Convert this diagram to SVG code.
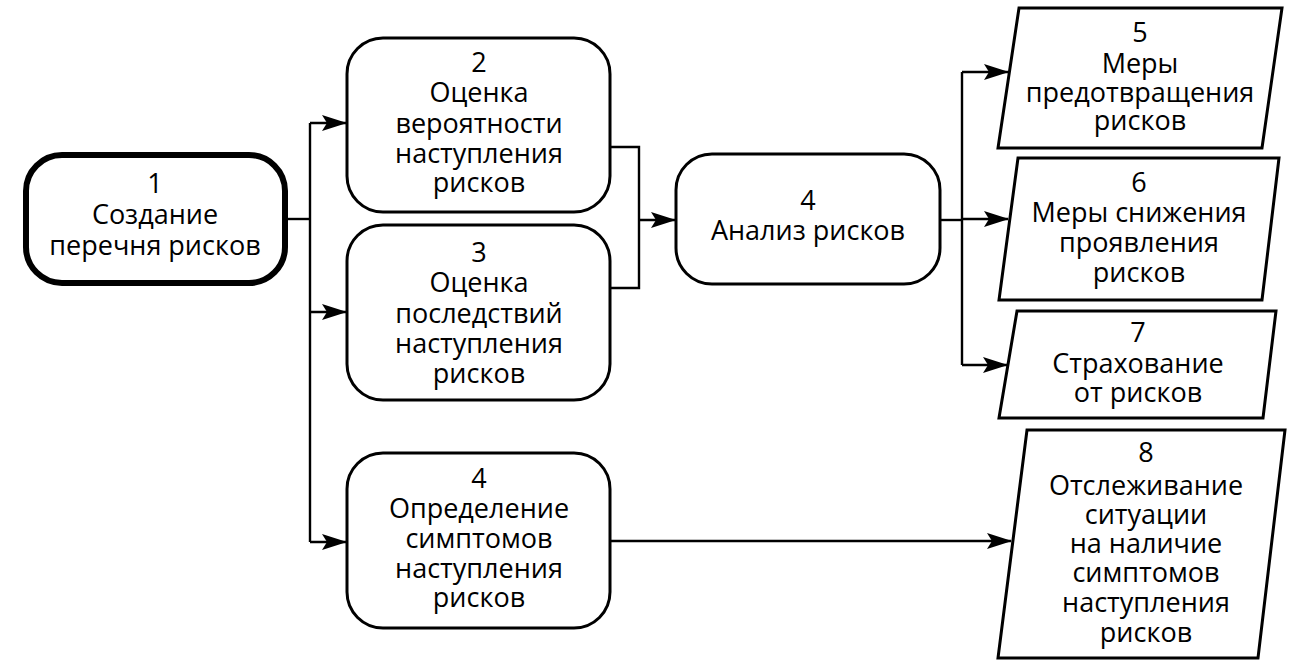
<svg xmlns="http://www.w3.org/2000/svg" width="1291" height="671" viewBox="0 0 1291 671">
<style>
.box{fill:#fff;stroke:#000;stroke-width:3}
.thick{stroke-width:6}
.t{font-family:"Open Sans","DejaVu Sans",sans-serif;font-size:27px;fill:#000;text-anchor:middle}
.c{fill:none;stroke:#000;stroke-width:2.4}
</style>
<defs>
<marker id="ah" markerUnits="userSpaceOnUse" markerWidth="26" markerHeight="18" refX="24" refY="9" orient="auto">
<path d="M0,1 L25,9 L0,17 L5,9 Z" fill="#000"/>
</marker>
</defs>
<rect width="1291" height="671" fill="#fff"/>
<g id="connectors">
<path class="c" d="M285,219 H310"/>
<path class="c" d="M310,123 V542"/>
<path class="c" d="M310,123 H346" marker-end="url(#ah)"/>
<path class="c" d="M310,312 H346" marker-end="url(#ah)"/>
<path class="c" d="M310,542 H346" marker-end="url(#ah)"/>
<path class="c" d="M610,147 H639 V288 H610"/>
<path class="c" d="M639,220 H675" marker-end="url(#ah)"/>
<path class="c" d="M940,220 H962"/>
<path class="c" d="M962,72 V365"/>
<path class="c" d="M962,72 H1008" marker-end="url(#ah)"/>
<path class="c" d="M962,219 H1008" marker-end="url(#ah)"/>
<path class="c" d="M962,365 H1007" marker-end="url(#ah)"/>
<path class="c" d="M610,541 H1011" marker-end="url(#ah)"/>
</g>
<g id="n1">
<rect class="box thick" x="26" y="155" width="259" height="128" rx="36"/>
<text class="t" x="155" y="193">1</text>
<text class="t" x="155" y="224">Создание</text>
<text class="t" x="155" y="255">перечня рисков</text>
</g>
<g id="n2">
<rect class="box" x="347" y="38" width="263" height="174" rx="36"/>
<text class="t" x="479" y="72">2</text>
<text class="t" x="479" y="102">Оценка</text>
<text class="t" x="479" y="133">вероятности</text>
<text class="t" x="479" y="163">наступления</text>
<text class="t" x="479" y="192">рисков</text>
</g>
<g id="n3">
<rect class="box" x="347" y="225" width="263" height="175" rx="36"/>
<text class="t" x="479" y="262">3</text>
<text class="t" x="479" y="292">Оценка</text>
<text class="t" x="479" y="323">последствий</text>
<text class="t" x="479" y="353">наступления</text>
<text class="t" x="479" y="383">рисков</text>
</g>
<g id="n4">
<rect class="box" x="676" y="154" width="264" height="130" rx="36"/>
<text class="t" x="808" y="210">4</text>
<text class="t" x="808" y="240">Анализ рисков</text>
</g>
<g id="n4b">
<rect class="box" x="347" y="453" width="263" height="175" rx="36"/>
<text class="t" x="479" y="488">4</text>
<text class="t" x="479" y="518">Определение</text>
<text class="t" x="479" y="548">симптомов</text>
<text class="t" x="479" y="578">наступления</text>
<text class="t" x="479" y="607">рисков</text>
</g>
<g id="n5">
<polygon class="box" points="1019,8 1282,8 1262,148 998,148"/>
<text class="t" x="1140" y="42">5</text>
<text class="t" x="1140" y="73">Меры</text>
<text class="t" x="1140" y="102">предотвращения</text>
<text class="t" x="1140" y="130">рисков</text>
</g>
<g id="n6">
<polygon class="box" points="1018,158 1279,158 1262,300 999,300"/>
<text class="t" x="1139" y="192">6</text>
<text class="t" x="1139" y="222">Меры снижения</text>
<text class="t" x="1139" y="252">проявления</text>
<text class="t" x="1139" y="282">рисков</text>
</g>
<g id="n7">
<polygon class="box" points="1017,311 1276,311 1263,418 999,418"/>
<text class="t" x="1138" y="342">7</text>
<text class="t" x="1138" y="373">Страхование</text>
<text class="t" x="1138" y="402">от рисков</text>
</g>
<g id="n8">
<polygon class="box" points="1027,430 1285,430 1258,658 998,658"/>
<text class="t" x="1146" y="462">8</text>
<text class="t" x="1146" y="495">Отслеживание</text>
<text class="t" x="1146" y="524">ситуации</text>
<text class="t" x="1146" y="553">на наличие</text>
<text class="t" x="1146" y="582">симптомов</text>
<text class="t" x="1146" y="612">наступления</text>
<text class="t" x="1146" y="642">рисков</text>
</g>
</svg>
